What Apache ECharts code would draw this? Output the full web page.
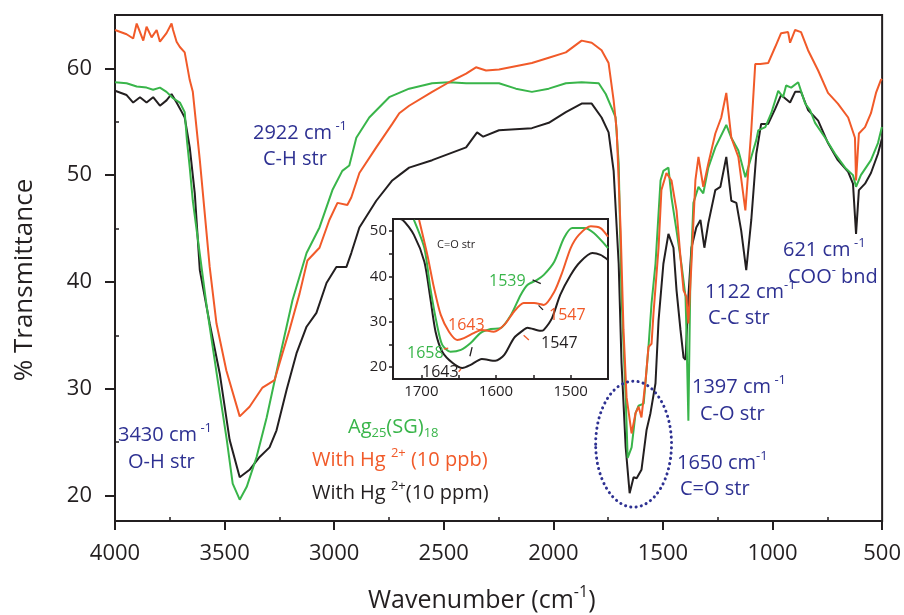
<!DOCTYPE html>
<html><head><meta charset="utf-8">
<script src="https://cdn.jsdelivr.net/npm/echarts@6/dist/echarts.min.js"></script>
<style>html,body{margin:0;padding:0;background:#fff}#c{width:904px;height:615px}</style>
</head><body><div id="c"></div>
<script>
// ---------- data (wavenumber cm-1, % transmittance) ----------
const agMain = [[4000,58.7],[3947,58.6],[3901,58.3],[3856,58.2],[3826,58.0],[3795,58.2],[3765,57.8],[3735,57.2],[3704,56.8],[3682,55.9],[3672,53.3],[3659,50.7],[3645,47.6],[3581,37.6],[3536,31.4],[3490,25.2],[3463,21.1],[3431,19.6],[3399,20.8],[3354,23.6],[3308,27.3],[3249,32.9],[3190,38.3],[3126,42.7],[3067,45.1],[3008,48.6],[2963,50.4],[2931,50.9],[2899,53.5],[2840,55.4],[2749,57.3],[2658,58.1],[2553,58.6],[2476,58.7],[2398,58.6],[2248,58.6],[2171,58.1],[2098,57.8],[2021,58.1],[1943,58.6],[1871,58.7],[1793,58.6],[1761,57.6],[1734,56.3],[1716,55.4],[1702,51.1],[1689,38.6],[1670,29.2],[1661,23.5],[1643,24.5],[1625,27.7],[1611,28.4],[1588,28.6],[1566,33.9],[1552,38.0],[1534,41.7],[1511,49.5],[1498,50.4],[1475,50.7],[1461,47.9],[1438,44.8],[1416,41.7],[1397,38.6],[1393,35.5],[1384,27.0],[1375,40.2],[1361,47.4],[1338,48.9],[1316,48.3],[1293,50.7],[1261,52.6],[1211,54.7],[1188,53.5],[1156,52.3],[1124,49.8],[1097,51.7],[1074,53.3],[1065,54.2],[1033,54.5],[1006,55.8],[974,57.9],[952,57.3],[938,58.4],[915,58.2],[883,58.7],[851,56.7],[829,56.1],[806,54.9],[760,53.5],[715,52.0],[669,50.7],[633,50.0],[619,48.9],[597,50.0],[551,51.4],[519,53.0],[501,54.5]];
const ppbMain = [[4000,63.6],[3947,63.2],[3917,62.8],[3901,64.2],[3871,62.6],[3856,63.9],[3833,62.9],[3810,63.6],[3795,62.5],[3765,63.3],[3742,64.2],[3735,63.6],[3719,62.5],[3704,62.0],[3682,61.5],[3659,58.9],[3645,57.8],[3613,51.4],[3568,41.4],[3537,36.1],[3492,31.7],[3431,27.4],[3386,28.3],[3327,30.1],[3272,30.8],[3236,33.3],[3204,35.5],[3158,38.9],[3122,42.0],[3067,43.2],[3022,45.8],[2985,47.4],[2940,47.2],[2922,47.9],[2885,50.2],[2808,52.6],[2735,54.8],[2703,55.8],[2658,56.5],[2553,57.8],[2476,58.7],[2398,59.5],[2353,60.1],[2307,59.8],[2248,59.9],[2098,60.5],[2021,61.0],[1943,61.5],[1871,62.6],[1825,62.4],[1780,61.7],[1748,60.5],[1725,57.0],[1711,54.2],[1693,44.8],[1680,35.5],[1666,29.2],[1643,25.8],[1625,27.7],[1611,28.3],[1598,27.3],[1579,30.8],[1566,33.9],[1552,34.2],[1543,37.1],[1520,43.2],[1507,48.6],[1484,50.2],[1461,49.5],[1438,46.7],[1420,42.3],[1406,39.2],[1393,38.6],[1384,36.1],[1370,41.7],[1352,49.5],[1338,51.7],[1316,48.9],[1293,51.1],[1261,53.9],[1234,55.4],[1211,57.7],[1188,53.5],[1156,51.7],[1124,46.7],[1097,54.2],[1079,60.4],[1056,60.4],[1020,60.5],[988,62.0],[961,63.3],[929,63.4],[920,62.4],[897,63.6],[870,63.4],[838,61.7],[792,59.8],[747,57.7],[702,56.7],[655,55.4],[624,53.5],[619,49.5],[606,53.9],[578,54.5],[551,55.8],[528,57.7],[506,58.9],[500,59.0]];
const ppmMain = [[4000,57.9],[3947,57.5],[3917,56.8],[3886,57.3],[3856,56.8],[3826,57.3],[3795,56.5],[3765,57.0],[3742,57.6],[3719,56.8],[3695,55.9],[3682,55.4],[3659,52.6],[3636,48.3],[3613,41.1],[3568,36.1],[3522,31.4],[3477,25.2],[3431,21.7],[3386,22.4],[3340,23.6],[3295,24.5],[3263,26.1],[3217,29.9],[3172,33.3],[3126,35.8],[3081,37.1],[3035,39.9],[2990,41.4],[2944,41.4],[2922,42.7],[2885,45.1],[2808,47.6],[2735,49.5],[2703,50.0],[2658,50.7],[2553,51.4],[2398,52.6],[2348,54.0],[2320,53.6],[2248,54.2],[2098,54.4],[2021,54.9],[1943,55.9],[1871,56.7],[1825,56.7],[1780,55.4],[1748,54.0],[1725,50.4],[1702,41.7],[1689,32.4],[1670,24.5],[1652,20.2],[1634,21.7],[1620,21.6],[1598,22.4],[1575,26.1],[1557,27.7],[1534,30.5],[1520,36.4],[1498,41.7],[1475,44.5],[1452,43.2],[1438,39.2],[1420,35.5],[1406,32.9],[1397,32.7],[1384,38.6],[1370,43.2],[1348,45.1],[1329,45.8],[1311,43.2],[1293,45.5],[1261,48.6],[1238,48.9],[1211,51.7],[1188,47.6],[1165,47.4],[1143,44.8],[1120,41.1],[1097,45.8],[1074,52.0],[1052,54.8],[1020,54.8],[988,56.2],[961,57.5],[920,56.8],[897,57.8],[870,57.8],[838,56.1],[792,55.1],[747,53.0],[702,51.4],[655,50.3],[633,49.2],[619,44.5],[606,48.6],[578,49.2],[551,50.2],[519,52.0],[501,53.4]];

const agInset = [[1710,52.4],[1696,46.2],[1688,37.4],[1679,29.3],[1672,24.9],[1661,23.4],[1647,23.8],[1634,25.3],[1621,27.5],[1607,28.4],[1594,28.6],[1580,31.5],[1567,35.9],[1558,38.1],[1545,39.2],[1536,40.3],[1522,43.2],[1509,48.4],[1498,50.6],[1482,50.6],[1469,49.5],[1450,46.2]];
const ppbInset = [[1703,52.4],[1692,44.7],[1683,37.4],[1674,31.5],[1663,27.8],[1652,26.0],[1643,26.4],[1630,27.5],[1619,28.2],[1603,27.8],[1589,29.3],[1576,32.2],[1563,34.1],[1549,34.1],[1536,33.7],[1522,36.6],[1511,41.0],[1500,46.2],[1489,49.1],[1473,51.0],[1460,50.6],[1450,48.7]];
const ppmInset = [[1737,52.9],[1725,52.4],[1710,49.1],[1696,43.2],[1688,35.2],[1681,27.8],[1672,23.4],[1658,20.9],[1645,19.8],[1634,20.5],[1619,21.8],[1601,21.4],[1589,22.7],[1576,26.4],[1563,28.2],[1558,28.7],[1540,28.0],[1536,28.2],[1525,30.8],[1514,35.9],[1500,40.3],[1487,43.2],[1471,45.1],[1460,44.7],[1450,43.6]];

// ---------- ticks ----------
const X_MAJOR = [4000,3500,3000,2500,2000,1500,1000,500];
const X_MINOR = [3750,3250,2750,2250,1750,1250,750];
const Y_MAJOR = [20,30,40,50,60];
const Y_MINOR = [25,35,45,55];
const IN_X_TICKS = [1700,1650,1600,1550,1500];
const IN_X_LABELS = [1700,1600,1500];
const IN_Y_TICKS = [20,25,30,35,40,45,50];
const IN_Y_LABELS = [20,30,40,50];

const FONT = "'Open Sans','Noto Sans',sans-serif";
const BLUE = '#2E3192', GREEN = '#39B54A', RED = '#F15A29', BLACK = '#231F20';
const plain = v => String(v);

const chart = echarts.init(document.getElementById('c'));
const axisBase = {type:'value', splitLine:{show:false}};
const line = (data, color, xi, yi, z, smooth) => ({type:'line', data, xAxisIndex:xi, yAxisIndex:yi, showSymbol:false, symbol:'none', z,
  smooth: smooth || false, lineStyle:{color, width:2}, clip:true});

chart.setOption({
  animation:false,
  backgroundColor:'#fff',
  grid:[
    {left:115, right:20, top:15, bottom:94, show:true, borderColor:BLACK, borderWidth:2},
    {left:393, top:219, width:215, height:160, show:true, borderColor:BLACK, borderWidth:2, backgroundColor:'#fff', z:3}
  ],
  xAxis:[
    Object.assign({}, axisBase, {gridIndex:0, min:500, max:4000, inverse:true, position:'bottom',
      axisLine:{show:true, lineStyle:{color:BLACK, width:2}},
      axisTick:{show:true, customValues:X_MAJOR, length:9, lineStyle:{color:BLACK, width:2}},
      axisLabel:{customValues:X_MAJOR, formatter:plain, margin:22, fontSize:22, color:BLACK, fontFamily:FONT}}),
    Object.assign({}, axisBase, {gridIndex:0, min:500, max:4000, inverse:true, position:'bottom',
      axisLine:{show:false},
      axisTick:{show:true, inside:true, customValues:X_MINOR, length:4, lineStyle:{color:BLACK, width:1.5}},
      axisLabel:{show:false}}),
    Object.assign({}, axisBase, {gridIndex:1, min:1450, max:1738, inverse:true, position:'bottom', z:6,
      axisLine:{show:true, lineStyle:{color:BLACK, width:2}},
      axisTick:{show:true, inside:true, customValues:IN_X_TICKS, length:4, lineStyle:{color:BLACK, width:1.5}},
      axisLabel:{customValues:IN_X_LABELS, formatter:plain, margin:5, fontSize:15, color:BLACK, fontFamily:FONT}})
  ],
  yAxis:[
    Object.assign({}, axisBase, {gridIndex:0, min:17.6, max:65, position:'left',
      axisLine:{show:true, lineStyle:{color:BLACK, width:2}},
      axisTick:{show:true, customValues:Y_MAJOR, length:10, lineStyle:{color:BLACK, width:2}},
      axisLabel:{customValues:Y_MAJOR, formatter:plain, margin:23, fontSize:22, color:BLACK, fontFamily:FONT}}),
    Object.assign({}, axisBase, {gridIndex:0, min:17.6, max:65, position:'left',
      axisLine:{show:false},
      axisTick:{show:true, inside:true, customValues:Y_MINOR, length:4, lineStyle:{color:BLACK, width:1.5}},
      axisLabel:{show:false}}),
    Object.assign({}, axisBase, {gridIndex:1, min:17.4, max:52.6, position:'left', z:6,
      axisLine:{show:true, lineStyle:{color:BLACK, width:2}},
      axisTick:{show:true, customValues:IN_Y_TICKS, length:4, lineStyle:{color:BLACK, width:1.5}},
      axisLabel:{customValues:IN_Y_LABELS, formatter:plain, margin:6, fontSize:15, color:BLACK, fontFamily:FONT}})
  ],
  series:[
    line(ppmMain, BLACK, 0, 0, 2),
    line(agMain, GREEN, 0, 0, 2),
    line(ppbMain, RED, 0, 0, 2),
    line(ppmInset, BLACK, 2, 2, 5, 0.25),
    line(agInset, GREEN, 2, 2, 5, 0.25),
    line(ppbInset, RED, 2, 2, 5, 0.25)
  ]
});

// ---------- annotations ----------
const richBase = {
  s:{fontSize:13, lineHeight:13, verticalAlign:'top', fontFamily:FONT},
  b:{fontSize:13, lineHeight:13, verticalAlign:'bottom', fontFamily:FONT}
};
function txt(text, x, y, color, size, extra) {
  return Object.assign({type:'text', x, y, z:100,
    style:{text, fill:color, fontSize:size, fontFamily:FONT, lineHeight:Math.round(size*1.3), align:'left', verticalAlign:'middle', rich:richBase}}, extra||{});
}
const labels = [
  txt('2922 cm{s| -1}', 253, 133, BLUE, 20), txt('C-H str', 263, 159, BLUE, 20),
  txt('3430 cm{s| -1}', 118, 435, BLUE, 20), txt('O-H str', 128, 462, BLUE, 20),
  txt('Ag{b|25}(SG){b|18}', 348, 427, GREEN, 20),
  txt('With Hg {s|2+} (10 ppb)', 312, 460, RED, 20),
  txt('With Hg {s|2+}(10 ppm)', 312, 493, BLACK, 20),
  txt('1122 cm{s|-1}', 705, 292, BLUE, 20), txt('C-C str', 708, 318, BLUE, 20),
  txt('621 cm{s| -1}', 783, 250, BLUE, 20), txt('COO{s|-} bnd', 788, 277, BLUE, 20),
  txt('1397 cm{s| -1}', 692, 387, BLUE, 20), txt('C-O str', 700, 414, BLUE, 20),
  txt('1650 cm{s|-1}', 677, 463, BLUE, 20), txt('C=O str', 680, 489, BLUE, 20),
  txt('C=O str', 437, 245, BLACK, 11),
  txt('1539', 489, 281, GREEN, 16), txt('1643', 448, 325, RED, 16),
  txt('1658', 407, 353, GREEN, 16), txt('1643', 422, 372, BLACK, 16),
  txt('1547', 549, 315, RED, 16), txt('1547', 541, 343, BLACK, 16),
  txt('% Transmittance', 25, 280, BLACK, 26, {rotation:Math.PI/2, style:{text:'% Transmittance', fill:BLACK, fontSize:26, fontFamily:FONT, align:'center', verticalAlign:'middle'}}),
  txt('Wavenumber (cm{s|-1})', 368, 601, BLACK, 25)
];
labels[labels.length-1].style.rich = {s:{fontSize:16, lineHeight:16, verticalAlign:'top', fontFamily:FONT}};

// small pointer strokes in the inset (inset data coordinates)
const POINTERS = [
  {from:[1551,39.2], to:[1540,38.4], color:BLACK},
  {from:[1635,22.4], to:[1632,24.4], color:BLACK},
  {from:[1543,33.6], to:[1537,32.6], color:BLACK},
  {from:[1670,24.0], to:[1664,24.2], color:RED},
  {from:[1650,19.0], to:[1647,19.6], color:RED},
  {from:[1563,27.0], to:[1556,26.0], color:RED}
];
// dotted ellipse around the 1650 band (main data coordinates)
const ELLIPSE = {cx:1634, cy:24.8, rx:173, ry:5.9};

const c0 = chart.convertToPixel({gridIndex:0}, [ELLIPSE.cx, ELLIPSE.cy]);
const cx1 = chart.convertToPixel({gridIndex:0}, [ELLIPSE.cx - ELLIPSE.rx, ELLIPSE.cy + ELLIPSE.ry]);
const ptrEls = POINTERS.map(p => {
  const a = chart.convertToPixel({gridIndex:1}, p.from), b = chart.convertToPixel({gridIndex:1}, p.to);
  return {type:'line', z:100, shape:{x1:a[0], y1:a[1], x2:b[0], y2:b[1]}, style:{stroke:p.color, lineWidth:1.3}};
});
chart.setOption({graphic: labels.concat(ptrEls, [{
  type:'ellipse', z:100,
  shape:{cx:c0[0], cy:c0[1], rx:Math.abs(cx1[0]-c0[0]), ry:Math.abs(cx1[1]-c0[1])},
  style:{fill:null, stroke:BLUE, lineWidth:3, lineDash:[0.1,5.2], lineCap:'round'}
}])});
</script></body></html>
